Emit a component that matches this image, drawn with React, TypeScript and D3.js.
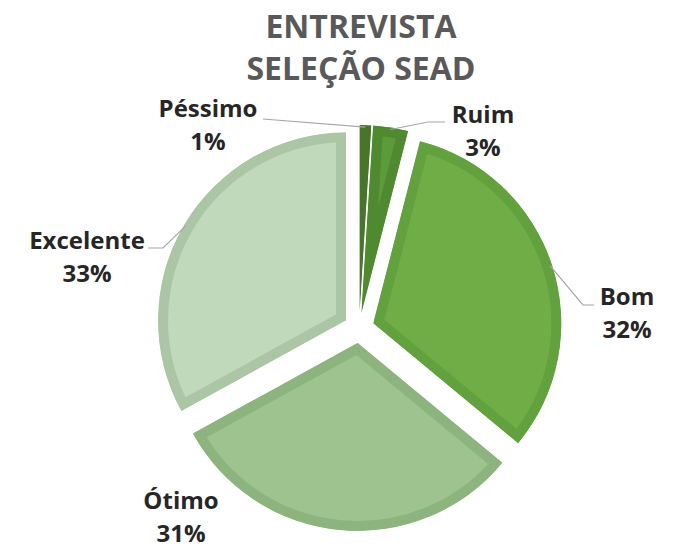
import React from "react";
import * as d3 from "d3";

const categories = ["Péssimo", "Ruim", "Bom", "Ótimo", "Excelente"];
const values = [1, 3, 32, 31, 33];
const fills = ["#4c7d2e", "#5c9b3a", "#70ad47", "#9ec38e", "#c0d9bb"];
const borders = ["#477529", "#4f8a30", "#63a13e", "#8db47e", "#abc6a5"];
const titleLines = ["ENTREVISTA", "SELEÇÃO SEAD"];

// layout constants
const W = 674;
const H = 548;
const CX = 359;
const CY = 328;
const R = 188;
const EXPLODE = 15;
const BORDER = 10;
// label centre x and first baseline y (same order as categories)
const labelLayout = [
  { x: 208, y: 117, line: [[263, 119]] as number[][] | null },
  { x: 483, y: 123, line: [[445, 122], [428, 122]] as number[][] | null },
  { x: 627, y: 305, line: [[594, 305], [583, 305]] as number[][] | null },
  { x: 181, y: 509, line: null as number[][] | null },
  { x: 87, y: 249, line: [[148, 248], [163, 248]] as number[][] | null },
];

export default function App() {
  const pie = d3.pie<number>().sort(null).value((d) => d).startAngle(0).endAngle(2 * Math.PI);
  const arcs = pie(values);
  const arc = d3.arc<d3.PieArcDatum<number>>().innerRadius(0).outerRadius(R);
  const total = d3.sum(values);

  return (
    <svg width={W} height={H} style={{ position: "absolute", left: 0, top: 0 }} fontFamily="'Open Sans', sans-serif">
      <rect width={W} height={H} fill="#ffffff" />
      <g fontWeight="bold" fill="#595959" fontSize={32} textAnchor="middle">
        {titleLines.map((t, i) => (
          <text key={i} x={361} y={38 + i * 42}>{t}</text>
        ))}
      </g>
      <defs>
        {arcs.map((a, i) => (
          <clipPath id={"clip" + i} key={i}>
            <path d={arc(a) || ""} />
          </clipPath>
        ))}
      </defs>
      {arcs.map((a, i) => {
        const mid = (a.startAngle + a.endAngle) / 2;
        const ox = CX + EXPLODE * Math.sin(mid);
        const oy = CY - EXPLODE * Math.cos(mid);
        return (
          <g key={i} transform={`translate(${ox},${oy})`}>
            <path d={arc(a) || ""} fill={fills[i]} stroke={borders[i]} strokeWidth={BORDER * 2} clipPath={`url(#clip${i})`} />
          </g>
        );
      })}
      {arcs.map((a, i) => {
        const L = labelLayout[i];
        if (!L.line) return null;
        const mid = (a.startAngle + a.endAngle) / 2;
        const ox = CX + EXPLODE * Math.sin(mid);
        const oy = CY - EXPLODE * Math.cos(mid);
        const ex = ox + (R - 2) * Math.sin(mid);
        const ey = oy - (R - 2) * Math.cos(mid);
        const pts = [...L.line, [ex, ey]] as [number, number][];
        return <path key={i} d={d3.line()(pts) || ""} fill="none" stroke="#a6a6a6" strokeWidth={1.2} />;
      })}
      <g fontWeight="bold" fill="#262626" fontSize={24} textAnchor="middle">
        {arcs.map((a, i) => {
          const L = labelLayout[i];
          const pct = Math.round((values[i] / total) * 100) + "%";
          return (
            <g key={i}>
              <text x={L.x} y={L.y}>{categories[i]}</text>
              <text x={L.x} y={L.y + 33}>{pct}</text>
            </g>
          );
        })}
      </g>
    </svg>
  );
}
